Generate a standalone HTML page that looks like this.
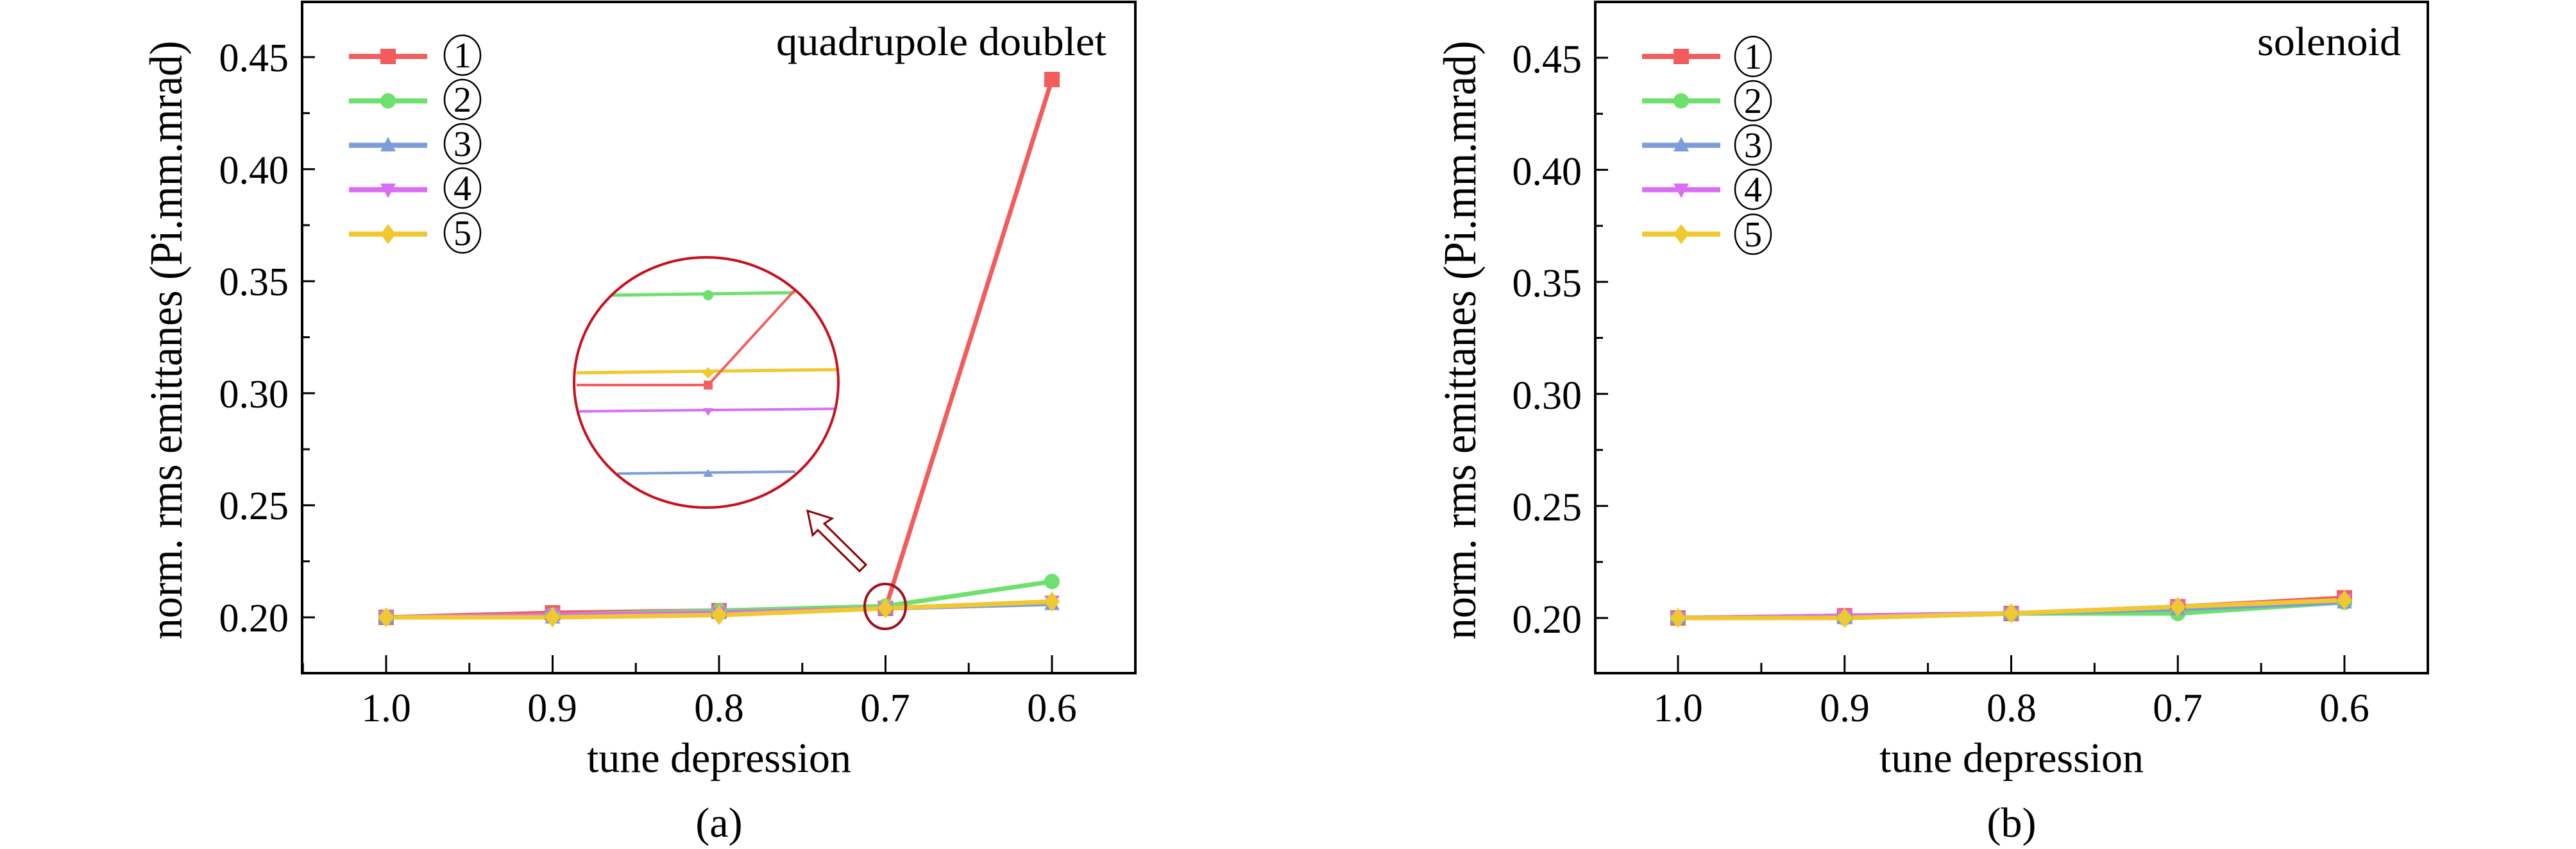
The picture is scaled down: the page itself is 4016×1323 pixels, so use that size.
<!DOCTYPE html>
<html><head><meta charset="utf-8"><style>
html,body{margin:0;padding:0;background:#fff}
svg{display:block}
svg text{font-family:"Liberation Serif","Times New Roman",serif !important;fill:#000}
</style></head><body>
<svg id="s" width="4016" height="1323" viewBox="0 0 4016 1323" xmlns="http://www.w3.org/2000/svg" font-family="Liberation Serif, serif">
<g id="A">
<rect x="471" y="3" width="1299" height="1046" fill="none" stroke="#000" stroke-width="4"/>
<g font-size="62" text-anchor="end">
<text x="450" y="111">0.45</text><text x="450" y="286">0.40</text><text x="450" y="460">0.35</text>
<text x="450" y="635">0.30</text><text x="450" y="809">0.25</text><text x="450" y="984">0.20</text>
</g>
<g font-size="62" text-anchor="middle">
<text x="602" y="1124">1.0</text><text x="861" y="1124">0.9</text><text x="1121" y="1124">0.8</text>
<text x="1380" y="1124">0.7</text><text x="1640" y="1124">0.6</text>
<text x="1121" y="1203" font-size="66" textLength="412" lengthAdjust="spacingAndGlyphs">tune depression</text>
<text x="1121" y="1304" font-size="66">(a)</text>
</g>
<text font-size="72" text-anchor="middle" textLength="933" lengthAdjust="spacingAndGlyphs" transform="translate(283,530) rotate(-90)">norm. rms emittanes (Pi.mm.mrad)</text>
<text font-size="64" text-anchor="end" x="1725" y="86" textLength="515" lengthAdjust="spacingAndGlyphs">quadrupole doublet</text>
</g>
<g id="B">
<rect x="2487" y="3" width="1298" height="1046" fill="none" stroke="#000" stroke-width="4"/>
<g font-size="62" text-anchor="end">
<text x="2466" y="113">0.45</text><text x="2466" y="288">0.40</text><text x="2466" y="462">0.35</text>
<text x="2466" y="637">0.30</text><text x="2466" y="811">0.25</text><text x="2466" y="986">0.20</text>
</g>
<g font-size="62" text-anchor="middle">
<text x="2616" y="1124">1.0</text><text x="2876" y="1124">0.9</text><text x="3136" y="1124">0.8</text>
<text x="3395" y="1124">0.7</text><text x="3655" y="1124">0.6</text>
<text x="3136" y="1203" font-size="66" textLength="412" lengthAdjust="spacingAndGlyphs">tune depression</text>
<text x="3136" y="1304" font-size="66">(b)</text>
</g>
<text font-size="72" text-anchor="middle" textLength="933" lengthAdjust="spacingAndGlyphs" transform="translate(2300,530) rotate(-90)">norm. rms emittanes (Pi.mm.mrad)</text>
<text font-size="64" text-anchor="end" x="3743" y="86" textLength="224" lengthAdjust="spacingAndGlyphs">solenoid</text>
</g>
<g fill="none" stroke="#000" stroke-width="2.5">
<ellipse cx="721" cy="86" rx="28" ry="31"/><ellipse cx="721" cy="155" rx="28" ry="31"/><ellipse cx="721" cy="224" rx="28" ry="31"/><ellipse cx="721" cy="293" rx="28" ry="31"/><ellipse cx="721" cy="363" rx="28" ry="31"/>
<ellipse cx="2733" cy="88" rx="28" ry="31"/><ellipse cx="2733" cy="157" rx="28" ry="31"/><ellipse cx="2733" cy="226" rx="28" ry="31"/><ellipse cx="2733" cy="295" rx="28" ry="31"/><ellipse cx="2733" cy="365" rx="28" ry="31"/>
</g>
<g font-size="56" text-anchor="middle">
<text x="721" y="105">1</text><text x="721" y="174">2</text><text x="721" y="243">3</text><text x="721" y="312">4</text><text x="721" y="382">5</text>
<text x="2733" y="107">1</text><text x="2733" y="176">2</text><text x="2733" y="245">3</text><text x="2733" y="314">4</text><text x="2733" y="384">5</text>
</g>
<g id="dyn"></g>
<g fill="none">
<line x1="954" y1="460" x2="1240" y2="456" stroke="#6ee06e" stroke-width="5"/>
<line x1="899" y1="581" x2="1304" y2="576" stroke="#f0c830" stroke-width="5"/>
<polyline points="899,600 1104,600 1240,451" stroke="#f26060" stroke-width="4"/>
<line x1="903" y1="641" x2="1304" y2="637" stroke="#d96ef5" stroke-width="4"/>
<line x1="963" y1="738" x2="1240" y2="735" stroke="#7b9ed9" stroke-width="4"/>
<circle cx="1104" cy="460" r="8" fill="#6ee06e"/>
<polygon points="1104,572 1113,581 1104,590 1095,581" fill="#f0c830"/>
<rect x="1097" y="593" width="14" height="14" fill="#f26060"/>
<polygon points="1096,636 1112,636 1104,648" fill="#d96ef5"/>
<polygon points="1096,743 1112,743 1104,731" fill="#7b9ed9"/>
<ellipse cx="1101" cy="596" rx="206" ry="195" stroke="#c8101e" stroke-width="4"/>
<ellipse cx="1380" cy="945" rx="32" ry="35" stroke="#a01020" stroke-width="4"/>
<polygon points="1259,796 1297,808 1285,816 1350,880 1340,890 1275,826 1267,834" stroke="#8b0000" stroke-width="3" fill="#fff"/>
</g>
</svg>
<script>
var NS="http://www.w3.org/2000/svg",d=document.getElementById("dyn");
function el(t,a){var e=document.createElementNS(NS,t);for(var k in a)e.setAttribute(k,a[k]);d.appendChild(e);return e;}
var cols=["#f25c5c","#6ee06e","#7b9ed9","#d96ef5","#f0c830"];
function marker(i,x,y,s){var c=cols[i];
 if(i==0)el("rect",{x:x-s,y:y-s,width:2*s,height:2*s,fill:c});
 else if(i==1)el("circle",{cx:x,cy:y,r:s,fill:c});
 else if(i==2)el("polygon",{points:(x-s)+","+(y+s*0.8)+" "+(x+s)+","+(y+s*0.8)+" "+x+","+(y-s*1.1),fill:c});
 else if(i==3)el("polygon",{points:(x-s)+","+(y-s*0.8)+" "+(x+s)+","+(y-s*0.8)+" "+x+","+(y+s*1.1),fill:c});
 else el("polygon",{points:x+","+(y-s*1.3)+" "+(x+s)+","+y+" "+x+","+(y+s*1.3)+" "+(x-s)+","+y,fill:c});}
function panel(L,R,B,x0,dx,y20,data,lx){
 for(var k=0;k<11;k++){var y=y20-k*87.3;if(y<5)break;var len=(k%2==0)?20:12;el("line",{x1:L,y1:y,x2:L+len,y2:y,stroke:"#000","stroke-width":3});}
 for(var k=-1;k<10;k++){var x=x0+k*dx/2;if(x<=L||x>=R)continue;var len=(k%2==0)?28:16;el("line",{x1:x,y1:B,x2:x,y2:B-len,stroke:"#000","stroke-width":3});}
 for(var i=0;i<5;i++){var p=[];for(var j=0;j<5;j++)p.push((x0+j*dx)+","+(y20-(data[i][j]-0.2)*3492));
  el("polyline",{points:p.join(" "),fill:"none",stroke:cols[i],"stroke-width":7,"stroke-linejoin":"round"});}
 for(var i=0;i<5;i++)for(var j=0;j<5;j++)marker(i,x0+j*dx,y20-(data[i][j]-0.2)*3492,12);
 for(var i=0;i<5;i++){var y=88+i*69.2;el("line",{x1:lx,y1:y,x2:lx+122,y2:y,stroke:cols[i],"stroke-width":8});marker(i,lx+61,y,12);}
}
panel(471,1770,1049,602,259.5,962,[[.2,.202,.203,.204,.44],[.2,.201,.203,.205,.216],[.2,.2,.202,.204,.206],[.2,.201,.202,.204,.207],[.2,.2,.201,.204,.207]],544);
panel(2487,3785,1049,2616,259.75,963,[[.2,.201,.202,.205,.209],[.2,.2,.202,.202,.207],[.2,.2,.202,.204,.207],[.2,.201,.202,.205,.208],[.2,.2,.202,.205,.208]],2560);
</script>
</body></html>
